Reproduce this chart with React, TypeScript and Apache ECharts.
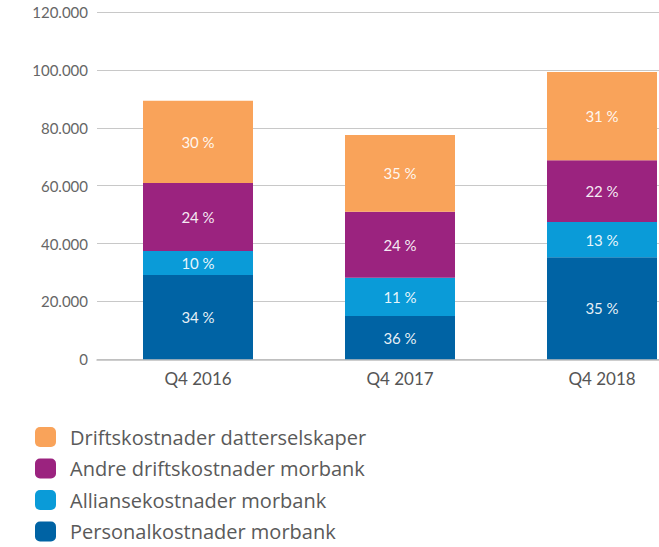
import React, { useEffect, useRef } from "react";
import * as echarts from "echarts";

const categories = ["Q4 2016", "Q4 2017", "Q4 2018"];
const personal = [29100, 15000, 35300];
const allianse = [8300, 13200, 12100];
const andre = [23500, 22800, 21400];
const drift = [28400, 26500, 30500];

const personalLabels = ["34 %", "36 %", "35 %"];
const allianseLabels = ["10 %", "11 %", "13 %"];
const andreLabels = ["24 %", "24 %", "22 %"];
const driftLabels = ["30 %", "35 %", "31 %"];

const seriesNames = [
  "Personalkostnader morbank",
  "Alliansekostnader morbank",
  "Andre driftskostnader morbank",
  "Driftskostnader datterselskaper",
];
const colors = ["#0063A4", "#0A9BD8", "#9B237F", "#F9A35A"];

const FONT = "Lato, 'Open Sans', sans-serif";
const LEGEND_FONT = "'Open Sans', Lato, sans-serif";

export default function App() {
  const ref = useRef<HTMLDivElement>(null);
  useEffect(() => {
    if (!ref.current) return;
    const chart = echarts.init(ref.current, undefined, { renderer: "svg" });
    const values = [personal, allianse, andre, drift];
    const labels = [personalLabels, allianseLabels, andreLabels, driftLabels];
    chart.setOption({
      animation: false,
      textStyle: { fontFamily: FONT },
      grid: { left: 97, top: 12, right: 17, height: 347.3, containLabel: false },
      legend: {
        orient: "vertical",
        left: 35,
        top: 427,
        height: 200,
        padding: 0,
        itemWidth: 21,
        itemHeight: 20,
        itemGap: 11.5,
        icon: "roundRect",
        data: [seriesNames[3], seriesNames[2], seriesNames[1], seriesNames[0]],
        textStyle: {
          fontFamily: LEGEND_FONT,
          fontSize: 20,
          color: "#5a5a5a",
          padding: [0, 0, 0, 9],
        },
      },
      xAxis: {
        type: "category",
        data: categories,
        axisTick: { show: false },
        axisLine: { lineStyle: { color: "#bdbdbd", width: 1.5 } },
        axisLabel: { color: "#555", fontSize: 17, margin: 11, fontFamily: FONT },
      },
      yAxis: {
        type: "value",
        min: 0,
        max: 120000,
        interval: 20000,
        axisLine: { show: false },
        axisTick: { show: false },
        splitLine: { lineStyle: { color: "#c8c8c8", width: 1.2 } },
        axisLabel: {
          color: "#666",
          fontSize: 15,
          margin: 9,
          fontFamily: FONT,
          formatter: (v: number) => (v === 0 ? "0" : `${v / 1000}.000`),
        },
      },
      series: values.map((vals, i) => ({
        name: seriesNames[i],
        type: "bar",
        stack: "total",
        barWidth: 110,
        itemStyle: { color: colors[i] },
        data: vals,
        label: {
          show: true,
          position: "inside",
          color: "rgba(255,255,255,0.92)",
          fontSize: 15,
          fontFamily: FONT,
          formatter: (p: any) => labels[i][p.dataIndex],
        },
      })),
    });
    return () => chart.dispose();
  }, []);
  return (
    <div style={{ position: "absolute", left: 0, top: 0, width: 659, height: 547, overflow: "hidden" }}>
      <div ref={ref} style={{ width: 720, height: 547 }} />
    </div>
  );
}
